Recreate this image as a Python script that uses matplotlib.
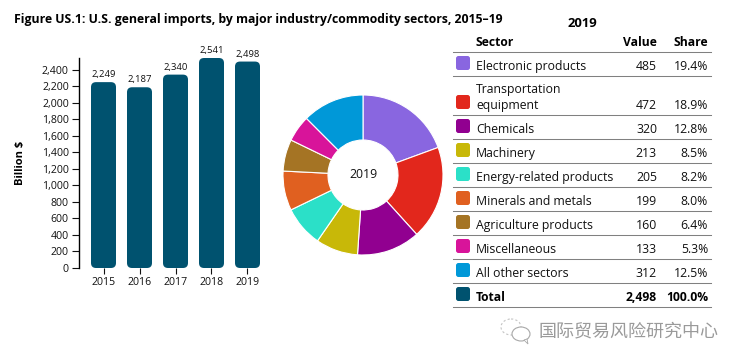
# -*- coding: utf-8 -*-
import matplotlib
matplotlib.use("Agg")
import matplotlib.pyplot as plt
from matplotlib.patches import FancyBboxPatch, Ellipse, Polygon

plt.rcParams['font.family'] = ['Open Sans', 'DejaVu Sans']

years = ['2015', '2016', '2017', '2018', '2019']
imports = [2249, 2187, 2340, 2541, 2498]
yticks = list(range(0, 2401, 200))

sectors = ['Electronic products', 'Transportation\nequipment', 'Chemicals', 'Machinery',
           'Energy-related products', 'Minerals and metals', 'Agriculture products',
           'Miscellaneous', 'All other sectors']
values = [485, 472, 320, 213, 205, 199, 160, 133, 312]
shares = ['19.4%', '18.9%', '12.8%', '8.5%', '8.2%', '8.0%', '6.4%', '5.3%', '12.5%']
colors = ['#8966E0', '#E2271C', '#910090', '#C8B808', '#2BE0C8',
          '#E06020', '#A57424', '#D8149A', '#0098D8']
total_value = '2,498'
total_share = '100.0%'
navy = '#00526F'
W, H = 740, 364
FS = 8.8
FSB = 8.7

fig = plt.figure(figsize=(W/100, H/100), dpi=100)

def axpos(x0, y0, x1, y1):
    # pixel box (y from top) to figure fractions
    return [x0/W, 1-y1/H, (x1-x0)/W, (y1-y0)/H]

# bars
ax = fig.add_axes(axpos(78.5, 58, 266, 268))
step = 36.0
ax.set_xlim((78.5-103.5)/step, (266-103.5)/step)
ax.set_ylim(0, 2541)
ypx = 2541/210.0
for i, v in enumerate(imports):
    bw = 25/step
    r = 5/step
    p = FancyBboxPatch((i-bw/2+r, r*step*ypx), bw-2*r, v-2*r*step*ypx,
                       boxstyle="round,pad=%f,rounding_size=%f" % (r, r),
                       mutation_aspect=step*ypx, fc=navy, ec='none', clip_on=False)
    ax.add_patch(p)
    ax.annotate(format(v, ','), (i, v), xytext=(0, 3), textcoords='offset pixels',
                ha='center', va='bottom', fontsize=6.8, color='#111111', annotation_clip=False)
for s in ['top', 'right', 'bottom']:
    ax.spines[s].set_visible(False)
ax.spines['left'].set_linewidth(1.0)
ax.set_xticks(range(len(years)))
ax.set_xticklabels(years, fontsize=7.6)
ax.set_yticks(yticks)
ax.set_yticklabels([format(t, ',') for t in yticks], fontsize=7.6)
ax.tick_params(axis='x', length=4.5, width=0.8, pad=2, colors='#111111')
ax.tick_params(axis='y', length=5, width=0.8, pad=2, colors='#111111')

# donut
dax = fig.add_axes(axpos(283, 95, 443, 255))
dax.pie(values, colors=colors, startangle=90, counterclock=False, radius=1.0,
        wedgeprops=dict(width=1-35/80.0, edgecolor='white', linewidth=0.8))
dax.set_xlim(-1, 1)
dax.set_ylim(-1, 1)
dax.text(0, 0, '2019', ha='center', va='center', fontsize=8.8, color='#111111')

# overlay in pixel coordinates for all the table text
ov = fig.add_axes([0, 0, 1, 1], zorder=5)
ov.set_xlim(0, W)
ov.set_ylim(H, 0)
ov.axis('off')

ov.text(14, 19, 'Figure US.1: U.S. general imports, by major industry/commodity sectors, 2015\u201319',
        fontsize=8.85, fontweight='bold', va='center', color='#000000')
ov.text(20, 163, 'Billion $', rotation=90, fontsize=8, fontweight='bold', ha='center', va='center')

ov.text(582.5, 23.5, '2019', fontsize=9.4, fontweight='bold', ha='center', va='center')
ov.text(476, 42.5, 'Sector', fontsize=FSB, fontweight='bold', va='center')
ov.text(657, 42.5, 'Value', fontsize=FSB, fontweight='bold', va='center', ha='right')
ov.text(708, 42.5, 'Share', fontsize=FSB, fontweight='bold', va='center', ha='right')

def swatch(y, c):
    ov.add_patch(FancyBboxPatch((458, y+2), 10, 10, boxstyle="round,pad=2,rounding_size=2.5",
                                fc=c, ec='none'))

line_x = (453, 711)
top = 52.3
ov.plot(line_x, (top, top), color='#808080', lw=0.75)
for name, val, sh, c in zip(sectors, values, shares, colors):
    two = '\n' in name
    bottom = top + (39 if two else 24)
    base = bottom - 9.8
    swatch(bottom-20.3, c)
    if two:
        first, second = name.split('\n')
        ov.text(476, base-16, first, fontsize=FS, va='center', color='#111111')
        ov.text(476, base, second, fontsize=FS, va='center', color='#111111')
    else:
        ov.text(476, base, name, fontsize=FS, va='center', color='#111111')
    ov.text(657, base, str(val), fontsize=FS, va='center', ha='right', color='#111111')
    ov.text(708, base, sh, fontsize=FS, va='center', ha='right', color='#111111')
    ov.plot(line_x, (bottom, bottom), color='#808080', lw=0.75)
    top = bottom
bottom = top + 24
swatch(bottom-20.3, navy)
ov.text(476, bottom-9.8, 'Total', fontsize=FSB, fontweight='bold', va='center')
ov.text(657, bottom-9.8, total_value, fontsize=FSB, fontweight='bold', va='center', ha='right')
ov.text(708, bottom-9.8, total_share, fontsize=FSB, fontweight='bold', va='center', ha='right')
ov.plot(line_x, (bottom, bottom), color='#808080', lw=0.75)

# watermark
wm = '#9A9A9A'
ov.add_patch(Ellipse((511, 327), 20, 16, fc='white', ec='#C4C4C4', lw=0.8, ls=(0, (2, 2))))
ov.add_patch(Ellipse((521, 334), 18, 14, fc='white', ec='#A8A8A8', lw=0.8))
ov.add_patch(Polygon([(524, 340), (528, 344), (527, 339)], fc='white', ec='#A8A8A8', lw=0.6))
ov.text(538, 332, '国际贸易风险研究中心', fontsize=13, va='center', color=wm,
        family=['Noto Sans CJK SC', 'DejaVu Sans'])

fig.savefig('out.png', dpi=100)
